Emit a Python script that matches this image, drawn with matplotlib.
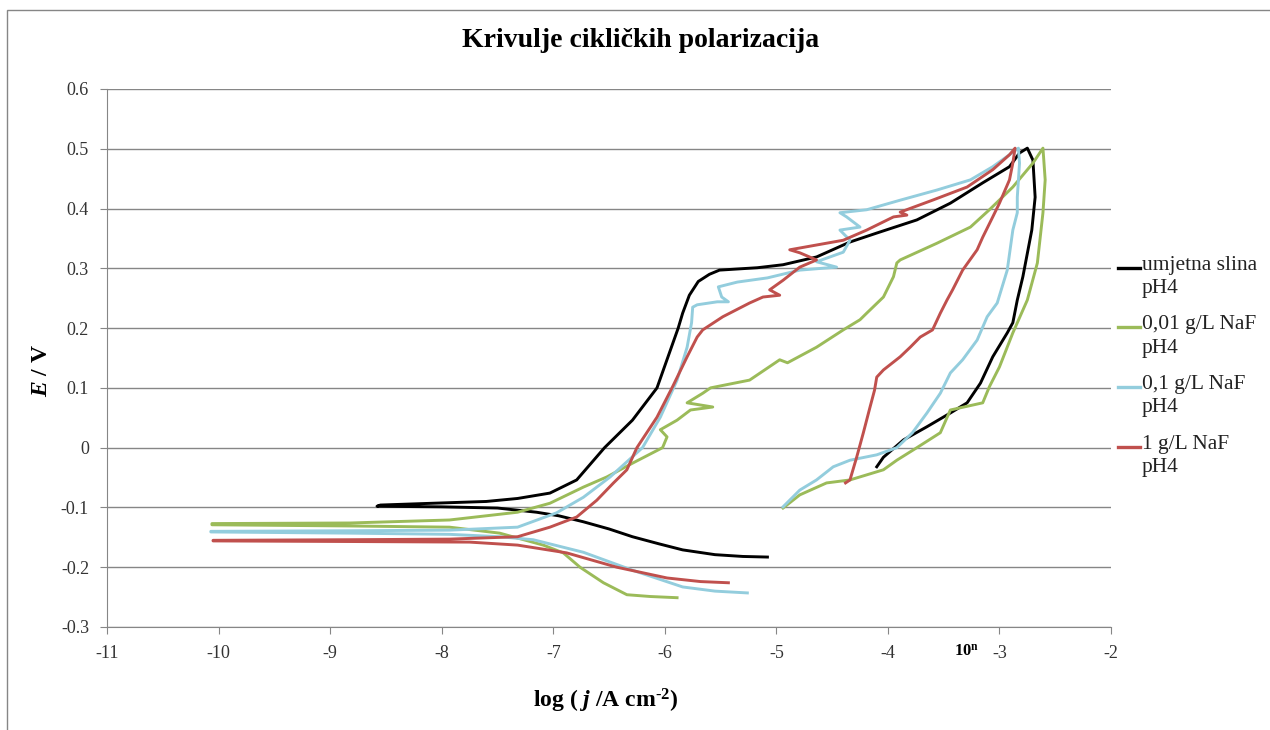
import matplotlib
matplotlib.use("Agg")
import matplotlib.pyplot as plt
from matplotlib.lines import Line2D
from matplotlib.patches import Rectangle

plt.rcParams['font.family'] = ['Liberation Serif', 'DejaVu Serif']
plt.rcParams['axes.unicode_minus'] = False
plt.rcParams['mathtext.fontset'] = 'custom'
plt.rcParams['mathtext.rm'] = 'Liberation Serif:bold'
plt.rcParams['mathtext.it'] = 'Liberation Serif:italic:bold'
plt.rcParams['mathtext.bf'] = 'Liberation Serif:bold'

labels = ["umjetna slina\npH4", "0,01 g/L NaF\npH4", "0,1 g/L NaF\npH4", "1 g/L NaF\npH4"]
colors = ["#000000", "#9BBB59", "#93CDDD", "#C0504D"]

# umjetna slina pH4
black_x = [-5.08, -5.30, -5.55, -5.84, -6.05, -6.29, -6.50, -6.73, -6.95, -7.15, -7.50, -8.00, -8.58,
           -8.55, -8.08, -7.60, -7.32, -7.03, -6.79, -6.54, -6.29, -6.07, -5.88, -5.84, -5.78, -5.70,
           -5.60, -5.51, -5.17, -4.94, -4.64, -4.34, -4.10, -3.74, -3.44, -3.15, -2.91, -2.82, -2.75,
           -2.70, -2.68, -2.71, -2.79, -2.84, -2.88, -2.93, -3.06, -3.17, -3.29, -3.44, -3.65, -3.86,
           -4.04, -4.10]
black_y = [-0.183, -0.182, -0.179, -0.171, -0.161, -0.149, -0.136, -0.124, -0.114, -0.108, -0.101, -0.099, -0.098,
           -0.096, -0.093, -0.090, -0.085, -0.076, -0.054, 0.000, 0.046, 0.100, 0.200, 0.225, 0.255, 0.278,
           0.290, 0.297, 0.301, 0.306, 0.319, 0.344, 0.359, 0.381, 0.409, 0.443, 0.470, 0.493, 0.501,
           0.481, 0.419, 0.364, 0.286, 0.247, 0.209, 0.192, 0.152, 0.108, 0.075, 0.058, 0.035, 0.013,
           -0.016, -0.032]

# 0,01 g/L NaF pH4
green_x = [-5.89, -6.13, -6.34, -6.55, -6.76, -6.91, -7.09, -7.48, -7.93, -8.82, -10.06,
           -10.06, -8.82, -7.93, -7.32, -7.03, -6.73, -6.52, -6.29, -6.02, -5.98, -6.04, -5.89, -5.77,
           -5.57, -5.80, -5.66, -5.59, -5.24, -4.97, -4.90, -4.64, -4.40, -4.25, -4.19, -4.04, -3.95,
           -3.92, -3.89, -3.56, -3.26, -3.09, -2.88, -2.70, -2.61,
           -2.59, -2.61, -2.66, -2.75, -2.88, -3.00, -3.09, -3.15, -3.44, -3.53, -3.74, -3.92, -4.04,
           -4.34, -4.55, -4.79, -4.94]
green_y = [-0.251, -0.249, -0.246, -0.226, -0.200, -0.176, -0.163, -0.143, -0.133, -0.131, -0.129,
           -0.127, -0.126, -0.121, -0.108, -0.093, -0.066, -0.049, -0.026, 0.000, 0.018, 0.030, 0.046, 0.063,
           0.068, 0.075, 0.091, 0.100, 0.113, 0.147, 0.142, 0.168, 0.197, 0.214, 0.225, 0.252, 0.286,
           0.309, 0.314, 0.342, 0.369, 0.398, 0.436, 0.476, 0.501,
           0.448, 0.393, 0.309, 0.247, 0.192, 0.135, 0.102, 0.075, 0.063, 0.025, 0.000, -0.021, -0.037,
           -0.054, -0.059, -0.079, -0.101]

# 0,1 g/L NaF pH4
blue_x = [-5.26, -5.55, -5.84, -6.29, -6.73, -7.18, -7.48, -7.93, -8.82, -10.07,
          -10.07, -8.82, -7.93, -7.32, -6.97, -6.73, -6.49, -6.20, -6.04, -5.89, -5.80, -5.76, -5.75,
          -5.71, -5.53, -5.43, -5.49, -5.52, -5.35, -5.08, -4.79, -4.46, -4.64, -4.40, -4.34, -4.43,
          -4.25, -4.37, -4.43, -4.19, -3.89, -3.56, -3.26, -3.06, -2.91, -2.83,
          -2.82, -2.84, -2.84, -2.88, -2.93, -3.02, -3.11, -3.20, -3.33, -3.44, -3.53, -3.65, -3.78,
          -3.92, -4.10, -4.34, -4.49, -4.64, -4.79, -4.94]
blue_y = [-0.243, -0.240, -0.233, -0.205, -0.175, -0.154, -0.149, -0.145, -0.143, -0.141,
          -0.140, -0.139, -0.138, -0.133, -0.109, -0.083, -0.049, 0.000, 0.051, 0.113, 0.168, 0.209, 0.235,
          0.239, 0.244, 0.244, 0.252, 0.269, 0.277, 0.284, 0.297, 0.302, 0.311, 0.327, 0.347, 0.364,
          0.369, 0.386, 0.393, 0.398, 0.414, 0.431, 0.448, 0.470, 0.490, 0.501,
          0.476, 0.419, 0.393, 0.364, 0.297, 0.242, 0.219, 0.180, 0.147, 0.125, 0.091, 0.058, 0.025,
          0.000, -0.012, -0.021, -0.032, -0.054, -0.071, -0.099]

# 1 g/L NaF pH4
red_x = [-5.43, -5.68, -5.98, -6.43, -6.88, -7.32, -7.75, -8.82, -10.05,
         -10.05, -8.82, -7.93, -7.32, -7.03, -6.79, -6.61, -6.46, -6.34, -6.25, -6.07, -5.93, -5.80,
         -5.71, -5.66, -5.48, -5.24, -5.12, -4.97, -5.06, -4.94, -4.79, -4.64, -4.79, -4.88, -4.64,
         -4.40, -4.19, -3.95, -3.83, -3.89, -3.60, -3.29, -3.06, -2.91, -2.86,
         -2.88, -2.91, -3.00, -3.06, -3.15, -3.20, -3.33, -3.42, -3.47, -3.53, -3.60, -3.71, -3.80,
         -3.89, -4.04, -4.10, -4.12, -4.16, -4.22, -4.28, -4.34, -4.38]
red_y = [-0.226, -0.224, -0.218, -0.200, -0.176, -0.163, -0.158, -0.157, -0.156,
         -0.155, -0.154, -0.153, -0.149, -0.133, -0.116, -0.088, -0.059, -0.037, 0.000, 0.051, 0.102, 0.152,
         0.185, 0.197, 0.219, 0.242, 0.252, 0.255, 0.264, 0.280, 0.302, 0.314, 0.326, 0.331, 0.339,
         0.347, 0.364, 0.386, 0.389, 0.394, 0.414, 0.436, 0.465, 0.490, 0.501,
         0.476, 0.448, 0.409, 0.386, 0.352, 0.331, 0.297, 0.264, 0.247, 0.225, 0.197, 0.185, 0.168,
         0.152, 0.130, 0.118, 0.096, 0.068, 0.025, -0.016, -0.054, -0.059]

xs = [black_x, green_x, blue_x, red_x]
ys = [black_y, green_y, blue_y, red_y]

x_ticks = list(range(-11, -1))
y_ticks = [-0.3, -0.2, -0.1, 0, 0.1, 0.2, 0.3, 0.4, 0.5, 0.6]

fig = plt.figure(figsize=(12.7, 7.3), dpi=100)
ax = fig.add_axes([0.0843, 0.1411, 0.7905, 0.7370])

grey = "#868686"
for x, y, c in zip(xs, ys, colors):
    ax.plot(x, y, color=c, lw=2.1, solid_joinstyle='round')

ax.set_xlim(-11, -2)
ax.set_ylim(-0.3, 0.6)
ax.set_xticks(x_ticks)
ax.set_yticks(y_ticks)
ax.set_yticklabels([f"{v:g}" for v in y_ticks])
ax.grid(axis='y', color=grey, lw=1)
ax.set_axisbelow(True)
for s in ['top', 'right']:
    ax.spines[s].set_visible(False)
for s in ['left', 'bottom']:
    ax.spines[s].set_color(grey)
ax.tick_params(direction='out', length=5, color=grey, labelsize=13, labelcolor='#333333')
ax.tick_params(axis='x', pad=8)
ax.tick_params(axis='y', pad=8)

fig.text(0.504, 0.945, "Krivulje cikličkih polarizacija", ha='center', va='center',
         fontsize=20, fontweight='bold')
fig.text(0.033, 0.493, r"$\mathit{E}$ / V", rotation=90, ha='center', va='center',
         fontsize=17, fontweight='bold')
fig.text(0.477, 0.04, r"log ( $\mathit{j}$ /A cm$^{\text{-2}}$)", ha='center', va='center',
         fontsize=17, fontweight='bold')
fig.text(0.761, 0.107, r"10$^{\mathrm{n}}$", ha='center', va='center', fontsize=12, fontweight='bold')

# legend, handle aligned with first text line
leg_y = [0.633, 0.552, 0.470, 0.388]
for lab, c, yy in zip(labels, colors, leg_y):
    fig.add_artist(Line2D([0.880, 0.898], [yy, yy], color=c, lw=2.4, transform=fig.transFigure))
    fig.text(0.899, yy + 0.016, lab, ha='left', va='top', fontsize=15.5,
             color='#222222', linespacing=1.3, transform=fig.transFigure)

# outer frame of the chart area
fig.add_artist(Rectangle((0.0055, -0.05), 1.1, 0.986 + 0.05, transform=fig.transFigure,
                         fill=False, edgecolor=grey, lw=1))

fig.savefig("out.png", dpi=100)
